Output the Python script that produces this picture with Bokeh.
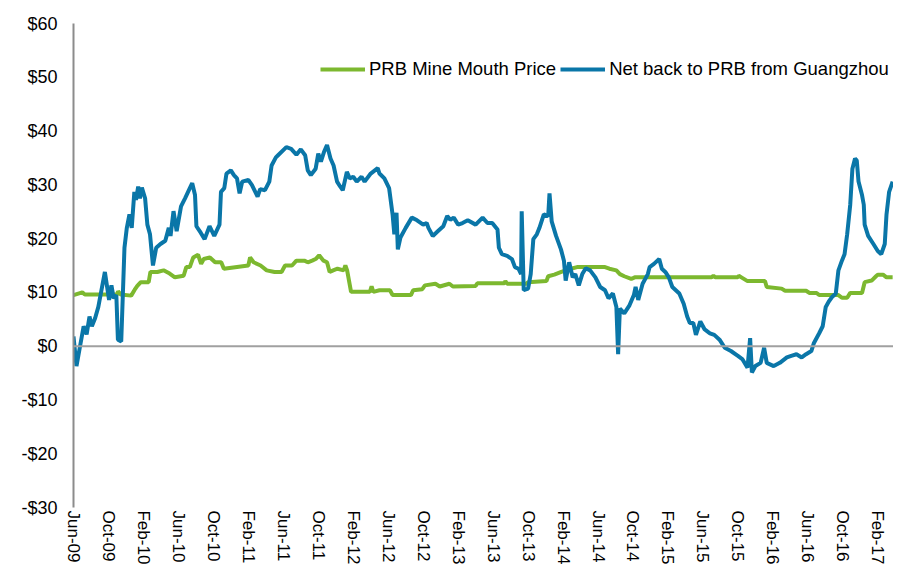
import math
from bokeh.plotting import figure
from bokeh.models import (ColumnDataSource, FixedTicker, Span, Legend,
                          LegendItem, Range1d)
from bokeh.embed import file_html
from bokeh.resources import INLINE

# x values: months since Jun-2009
green_months = [0, 1.0, 1.3, 5.0, 5.1, 5.4, 6.6, 7.0, 7.3, 7.7, 8.6, 8.8, 9.6,
                10.3, 11.0, 11.6, 12.6, 12.9, 13.3, 13.7, 14.25, 14.6, 14.9,
                15.6, 16.2, 16.9, 17.2, 20.0, 20.2, 20.6, 21.4, 22.1, 23.0,
                23.8, 24.2, 25.0, 25.5, 26.4, 26.8, 27.3, 27.7, 28.1, 28.6,
                29.0, 29.3, 29.7, 30.2, 30.9, 31.1, 31.3, 31.75, 33.9, 34.1,
                34.3, 35.0, 36.2, 36.5, 38.6, 38.85, 39.9, 40.2, 41.4, 41.9,
                43.0, 43.4, 46.0, 46.2, 49.3, 49.4, 49.6, 51.8, 52.0, 54.1,
                54.3, 55.0, 55.8, 56.9, 57.6, 60.8, 61.3, 62.1, 62.5, 63.0,
                63.8, 64.2, 73.0, 73.2, 73.4, 76.0, 76.1, 76.4, 77.1, 79.1,
                79.3, 81.0, 81.4, 83.8, 84.2, 85.0, 85.3, 87.5, 87.9, 88.5,
                88.85, 90.2, 90.5, 91.3, 91.8, 92.0, 92.6, 93.0, 93.7]
green_vals = [9.5, 10.0, 9.6, 9.6, 10.2, 9.6, 9.4, 10.5, 11.2, 11.9, 11.9, 13.8,
              13.8, 14.1, 13.5, 12.8, 13.1, 14.7, 14.7, 16.5, 17.0, 15.3, 16.2,
              16.5, 15.6, 15.6, 14.4, 15.0, 16.5, 15.6, 15.0, 14.1, 13.8,
              13.8, 15.0, 15.0, 15.9, 15.9, 15.6, 15.9, 16.2, 16.9, 15.9,
              15.6, 13.8, 14.1, 14.4, 14.1, 15.0, 14.1, 10.1, 10.1, 11.1,
              10.1, 10.4, 10.4, 9.5, 9.5, 10.4, 10.6, 11.3, 11.6, 11.1,
              11.6, 11.1, 11.2, 11.7, 11.7, 12.1, 11.6, 11.6, 11.9, 12.1,
              13.0, 13.3, 13.8, 14.4, 14.7, 14.7, 14.4, 14.1, 13.4, 13.0,
              12.5, 12.8, 12.8, 13.1, 12.8, 12.8, 13.1, 12.8, 12.1, 12.1,
              11.0, 10.7, 10.3, 10.3, 9.9, 9.9, 9.5, 9.5, 9.0, 9.0,
              9.9, 9.9, 11.9, 12.2, 13.0, 13.3, 13.3, 12.8, 12.8]

blue_months = [0, 0.34, 1.16, 1.5, 1.83, 2.1, 2.47, 2.84, 3.59, 4.07, 4.34, 4.6,
               4.9, 5.08, 5.46, 5.83, 6.1, 6.4, 6.66, 6.96, 7.15, 7.4, 7.6,
               7.82, 8.19, 8.45, 8.75, 9.09, 9.46, 9.95, 10.5, 10.9, 11.1,
               11.44, 11.8, 12.3, 12.76, 13.2, 13.58, 13.9, 14.06, 14.55, 15.0,
               15.56, 16.1, 16.7, 16.87, 17.25, 17.5, 18.0, 18.35, 18.7, 19.0,
               19.3, 20.0, 20.4, 21.06, 21.35, 21.9, 22.4, 22.66, 23.15, 23.4,
               24.35, 24.9, 25.5, 26.0, 26.5, 26.8, 27.15, 27.7, 28.0, 28.3,
               28.65, 29.0, 29.4, 29.75, 30.15, 30.5, 30.8, 31.27, 31.6, 32.0,
               32.4, 32.95, 33.3, 34.0, 34.8, 35.0, 35.56, 36.1, 36.5, 36.7,
               36.95, 37.1, 37.4, 38.0, 38.7, 39.3, 40.0, 40.4, 40.6, 41.1,
               41.7, 42.3, 42.75, 43.1, 43.5, 44.0, 44.5, 45.1, 46.0, 46.8,
               47.35, 47.9, 48.5, 48.66, 49.0, 49.6, 50.15, 50.5, 50.9, 51.2,
               51.27, 51.5, 52.0, 52.3, 52.6, 53.0, 53.3, 53.8, 54.3, 54.45,
               54.7, 55.2, 55.76, 56.1, 56.3, 56.7, 57.1, 57.4, 57.8, 58.2,
               58.6, 59.1, 59.7, 60.25, 60.8, 61.2, 61.7, 62.1, 62.3, 62.5,
               63.0, 63.6, 64.1, 64.3, 64.6, 65.1, 65.7, 65.9, 66.4, 67.0,
               67.3, 67.7, 68.1, 68.5, 69.3, 69.8, 70.2, 70.5, 70.9, 71.2,
               71.7, 72.2, 72.8, 73.3, 73.9, 74.5, 75.2, 76.0, 76.5, 77.1,
               77.4, 77.6, 78.0, 78.6, 79.0, 79.3, 80.1, 80.8, 81.6, 82.1,
               82.7, 83.3, 83.8, 84.4, 84.7, 85.3, 85.7, 86.05, 86.4, 86.8,
               87.2, 87.5, 87.9, 88.2, 88.5, 88.85, 89.1, 89.4, 89.6, 89.8,
               90.2, 90.4, 90.5, 90.9, 91.5, 92.0, 92.4, 92.8, 93.0, 93.3,
               93.7]
blue_vals = [1.8, -3.7, 3.7, 2.2, 5.5, 3.7, 5.2, 7.3, 13.8, 8.6, 11.3, 8.9,
             9.5, 1.2, 0.9, 18.3, 22.0, 24.5, 22.0, 28.7, 27.2, 29.7, 27.5,
             29.5, 27.5, 22.6, 20.8, 15.0, 18.3, 19.0, 19.6, 22.0, 20.5,
             25.1, 21.4, 26.0, 27.5, 29.0, 30.3, 28.1, 22.3, 21.1, 19.9,
             22.3, 20.5, 22.6, 28.7, 29.4, 32.1, 32.7, 31.8, 31.2, 28.4,
             30.6, 30.9, 30.0, 27.8, 29.2, 29.0, 30.6, 33.6, 35.1, 35.5,
             37.0, 36.7, 35.6, 36.6, 35.5, 32.7, 31.8, 33.0, 35.8, 34.3,
             36.1, 37.4, 34.9, 33.6, 30.6, 29.7, 29.0, 32.4, 31.2, 31.5,
             30.6, 31.5, 30.6, 32.1, 33.1, 32.1, 31.2, 29.4, 24.5, 20.8,
             24.8, 18.0, 20.2, 22.0, 23.9, 23.4, 22.6, 22.9, 22.0, 20.5,
             21.4, 22.3, 24.2, 23.5, 23.9, 22.6, 22.9, 23.4, 22.6, 23.9,
             22.9, 22.9, 21.7, 18.3, 17.1, 16.8, 16.2, 14.7, 14.4, 13.4,
             25.1, 10.4, 10.7, 13.4, 19.9, 20.8, 22.0, 24.5, 24.2, 28.4,
             23.2, 20.5, 18.0, 15.9, 12.2, 15.6, 12.8, 13.4, 11.3, 13.4,
             14.5, 14.1, 12.8, 11.0, 10.4, 8.9, 9.8, 7.3, -1.5, 7.0,
             6.1, 7.6, 9.5, 11.0, 8.6, 11.6, 13.4, 14.7, 15.3, 16.2,
             14.4, 13.8, 12.8, 11.0, 9.8, 7.9, 5.5, 4.3, 4.3, 2.1,
             4.6, 3.1, 2.4, 2.1, 1.2, -0.3, -0.9, -1.8, -2.4, -4.0,
             1.5, -4.9, -3.7, -3.1, -0.3, -3.1, -3.7, -3.1, -2.1, -1.8,
             -1.5, -2.1, -1.5, -0.9, 0.6, 2.4, 3.7, 7.3, 8.3, 9.2,
             9.8, 14.1, 15.9, 17.1, 20.8, 26.3, 33.0, 34.9, 34.5, 30.6,
             28.1, 26.3, 22.6, 20.5, 19.0, 17.7, 17.1, 19.0, 24.5, 28.7,
             30.6]

tick_months = list(range(0, 93, 4))
tick_labels = ["Jun-09", "Oct-09", "Feb-10", "Jun-10", "Oct-10", "Feb-11",
               "Jun-11", "Oct-11", "Feb-12", "Jun-12", "Oct-12", "Feb-13",
               "Jun-13", "Oct-13", "Feb-14", "Jun-14", "Oct-14", "Feb-15",
               "Jun-15", "Oct-15", "Feb-16", "Jun-16", "Oct-16", "Feb-17"]
y_ticks = [-30, -20, -10, 0, 10, 20, 30, 40, 50, 60]
y_labels = ["-$30", "-$20", "-$10", "$0", "$10", "$20", "$30", "$40", "$50", "$60"]

series_names = ["PRB Mine Mouth Price", "Net back to PRB from Guangzhou"]
GREEN = "#7cb82f"
BLUE = "#0a76a8"
FONT = "Liberation Sans"

p = figure(width=893, height=567, output_backend="svg", toolbar_location=None,
           x_range=Range1d(0, 93.8), y_range=Range1d(-30, 60),
           min_border_left=73, min_border_right=0, min_border_top=23,
           min_border_bottom=40)
p.outline_line_color = None
p.grid.visible = False
p.background_fill_color = "white"
p.border_fill_color = "white"

p.add_layout(Span(location=0, dimension="width", line_color="#a0a0a0",
                  line_width=2))

gsrc = ColumnDataSource(dict(x=green_months, y=green_vals))
bsrc = ColumnDataSource(dict(x=blue_months, y=blue_vals))
g = p.line("x", "y", source=gsrc, line_color=GREEN, line_width=4)
b = p.line("x", "y", source=bsrc, line_color=BLUE, line_width=4)

# y axis
ya = p.yaxis[0]
ya.ticker = FixedTicker(ticks=y_ticks)
ya.major_label_overrides = {t: l for t, l in zip(y_ticks, y_labels)}
ya.axis_line_color = "#8c8c8c"
ya.axis_line_width = 2
ya.major_tick_line_color = None
ya.minor_tick_line_color = None
ya.major_tick_out = 0
ya.major_tick_in = 0
ya.minor_tick_out = 0
ya.minor_tick_in = 0
ya.axis_label_standoff = 0
ya.major_label_text_font = FONT
ya.major_label_text_font_size = "18px"
ya.major_label_text_color = "black"
ya.major_label_standoff = 16

# x axis
xa = p.xaxis[0]
xa.ticker = FixedTicker(ticks=tick_months)
xa.major_label_overrides = {t: l for t, l in zip(tick_months, tick_labels)}
xa.major_label_orientation = -math.pi / 2
xa.axis_line_color = None
xa.major_tick_line_color = None
xa.minor_tick_line_color = None
xa.major_tick_out = 0
xa.major_tick_in = 0
xa.minor_tick_out = 0
xa.minor_tick_in = 0
xa.axis_label_standoff = 0
xa.major_label_text_font = FONT
xa.major_label_text_font_size = "17px"
xa.major_label_text_color = "black"
xa.major_label_standoff = 3

legend = Legend(items=[LegendItem(label=series_names[0], renderers=[g]),
                       LegendItem(label=series_names[1], renderers=[b])],
                orientation="horizontal", location=(247, 427))
legend.border_line_color = None
legend.background_fill_alpha = 0
legend.padding = 0
legend.margin = 0
legend.spacing = 4
legend.glyph_width = 45
legend.glyph_height = 20
legend.label_height = 20
legend.label_standoff = 4
legend.label_text_font = FONT
legend.label_text_font_size = "18.5px"
legend.label_text_color = "black"
p.add_layout(legend)

open("out.html", "w").write(file_html(p, INLINE))
